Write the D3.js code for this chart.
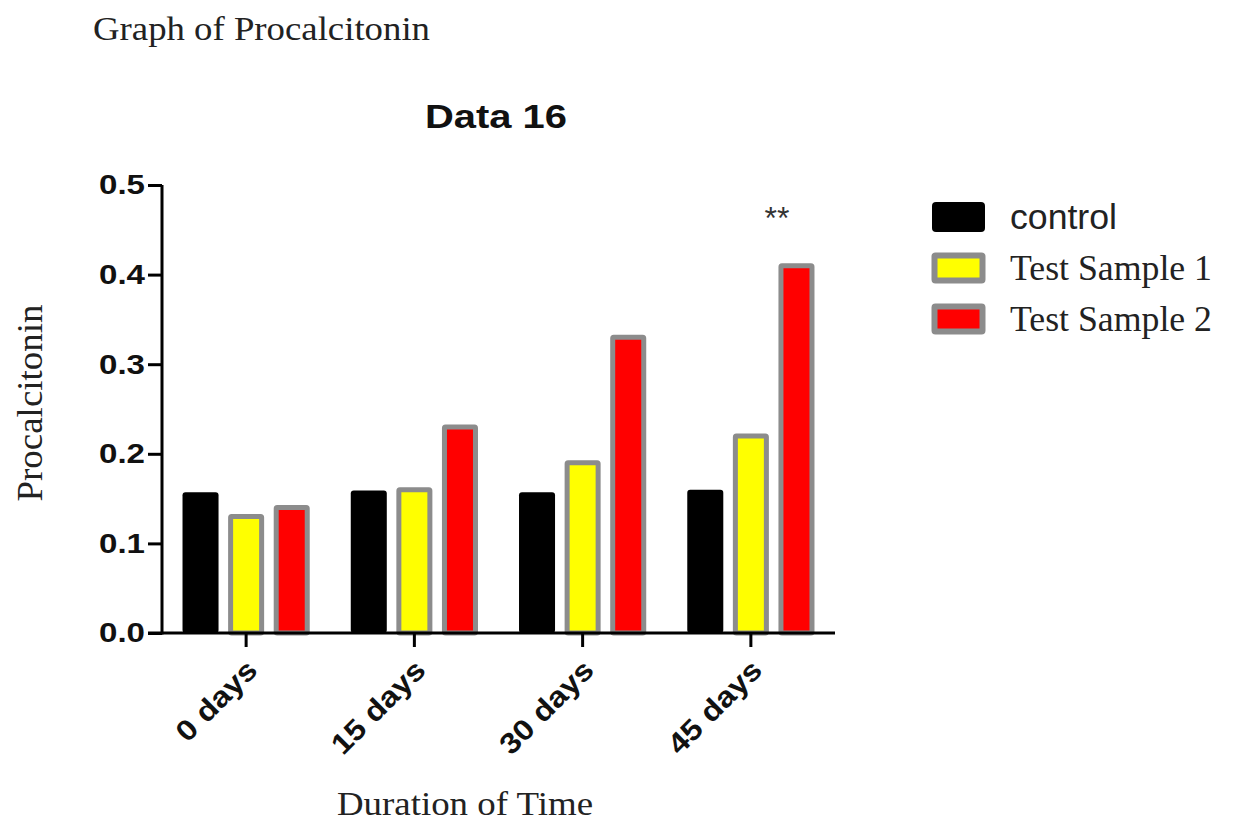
<!DOCTYPE html>
<html>
<head>
<meta charset="utf-8">
<script src="https://cdn.jsdelivr.net/npm/d3@7"></script>
<style>
  html, body { margin: 0; padding: 0; background: #fff; }
  svg { display: block; }
</style>
</head>
<body>
<svg id="chart" width="1233" height="825"></svg>
<script>
// ---- data ----
const categories = ["0 days", "15 days", "30 days", "45 days"];
const seriesNames = ["control", "Test Sample 1", "Test Sample 2"];
const controlValues = [0.157, 0.159, 0.157, 0.160];
const sample1Values = [0.130, 0.160, 0.190, 0.220];
const sample2Values = [0.140, 0.230, 0.330, 0.410];
const yTicks = [0.0, 0.1, 0.2, 0.3, 0.4, 0.5];
const annotations = [{ category: "45 days", text: "**" }];

const seriesValues = [controlValues, sample1Values, sample2Values];
const fills = ["#000000", "#ffff00", "#ff0000"];
const strokes = [null, "#8c8c8c", "#8c8c8c"];

const svg = d3.select("#chart");

// ---- scales ----
const x = d3.scaleBand().domain(categories).range([162, 835]).padding(0);
const xSub = d3.scaleBand().domain(seriesNames).range([0, x.bandwidth()])
  .paddingInner(0.21).paddingOuter(0.45);
const y = d3.scaleLinear().domain([0, 0.5]).range([633, 185]);

// ---- bars ----
const rows = [];
categories.forEach((c, i) => {
  seriesNames.forEach((s, j) => rows.push({ c, s, j, v: seriesValues[j][i] }));
});
const sw = 5;
svg.append("g").selectAll("rect").data(rows).join("rect")
  .attr("x", d => x(d.c) + xSub(d.s) + (strokes[d.j] ? sw / 2 : 0))
  .attr("y", d => y(d.v))
  .attr("width", d => xSub.bandwidth() - (strokes[d.j] ? sw : 0))
  .attr("height", d => y(0) - y(d.v))
  .attr("rx", d => strokes[d.j] ? 1 : 3)
  .attr("fill", d => fills[d.j])
  .attr("stroke", d => strokes[d.j] || "none")
  .attr("stroke-width", d => strokes[d.j] ? sw : 0);

// ---- axes ----
const yAxis = svg.append("g").attr("transform", "translate(162,0)")
  .call(d3.axisLeft(y).tickValues(yTicks).tickFormat(d3.format(".1f")).tickSize(14).tickPadding(3));
yAxis.select(".domain").attr("d", `M0,${y(0.5)}V${y(0) + 1.5}`).attr("stroke", "#000").attr("stroke-width", 3);
yAxis.selectAll(".tick line").attr("stroke", "#000").attr("stroke-width", 3);
yAxis.selectAll(".tick text")
  .attr("fill", "#111")
  .style("font-family", "Liberation Sans, Arial, sans-serif")
  .style("font-weight", "bold")
  .style("font-size", "28px")
  .attr("textLength", 46).attr("lengthAdjust", "spacingAndGlyphs");

const xAxis = svg.append("g").attr("transform", `translate(0,${y(0)})`)
  .call(d3.axisBottom(x).tickSize(14).tickPadding(0));
xAxis.select(".domain").attr("d", `M148,0H835`).attr("stroke", "#000").attr("stroke-width", 3);
xAxis.selectAll(".tick line").attr("stroke", "#000").attr("stroke-width", 3);
xAxis.selectAll(".tick text")
  .attr("fill", "#111")
  .style("font-family", "Liberation Sans, Arial, sans-serif")
  .style("font-weight", "bold")
  .style("font-size", "29px")
  .attr("text-anchor", "end")
  .attr("dy", null).attr("y", null)
  .attr("transform", "translate(13,39) rotate(-45)")
  .attr("textLength", function() { return this.getComputedTextLength() * 1.12; })
  .attr("lengthAdjust", "spacingAndGlyphs");

// ---- annotation ----
svg.append("g").selectAll("text").data(annotations).join("text")
  .attr("x", d => x(d.category) + x.bandwidth() * 0.655)
  .attr("y", 229)
  .attr("text-anchor", "middle")
  .attr("fill", "#333")
  .style("font-family", "Liberation Sans, Arial, sans-serif")
  .style("font-size", "32px")
  .text(d => d.text);

// ---- titles ----
svg.append("text").attr("x", 93).attr("y", 40)
  .attr("fill", "#222")
  .style("font-family", "Liberation Serif, Times New Roman, serif")
  .style("font-size", "34px")
  .attr("textLength", 337).attr("lengthAdjust", "spacingAndGlyphs")
  .text("Graph of Procalcitonin");

svg.append("text").attr("x", 496).attr("y", 128)
  .attr("text-anchor", "middle")
  .attr("fill", "#111")
  .style("font-family", "Liberation Sans, Arial, sans-serif")
  .style("font-weight", "bold")
  .style("font-size", "33px")
  .attr("textLength", 142).attr("lengthAdjust", "spacingAndGlyphs")
  .text("Data 16");

svg.append("text")
  .attr("transform", "translate(42,403) rotate(-90)")
  .attr("text-anchor", "middle")
  .attr("fill", "#222")
  .style("font-family", "Liberation Serif, Times New Roman, serif")
  .style("font-size", "36px")
  .attr("textLength", 197).attr("lengthAdjust", "spacingAndGlyphs")
  .text("Procalcitonin");

svg.append("text").attr("x", 465).attr("y", 815)
  .attr("text-anchor", "middle")
  .attr("fill", "#222")
  .style("font-family", "Liberation Serif, Times New Roman, serif")
  .style("font-size", "33px")
  .attr("textLength", 256).attr("lengthAdjust", "spacingAndGlyphs")
  .text("Duration of Time");

// ---- legend ----
const legendY = d3.scalePoint().domain(seriesNames).range([217, 319]);
const lg = svg.append("g").selectAll("g").data(seriesNames).join("g");
lg.append("rect")
  .attr("x", (d, i) => 932 + (strokes[i] ? sw / 2 : 0))
  .attr("y", (d, i) => legendY(d) - 15 + (strokes[i] ? sw / 2 : 0))
  .attr("width", (d, i) => 53 - (strokes[i] ? sw : 0))
  .attr("height", (d, i) => 30 - (strokes[i] ? sw : 0))
  .attr("rx", (d, i) => strokes[i] ? 1 : 4)
  .attr("fill", (d, i) => fills[i])
  .attr("stroke", (d, i) => strokes[i] || "none")
  .attr("stroke-width", (d, i) => strokes[i] ? sw + 1 : 0);
lg.append("text")
  .attr("x", 1010)
  .attr("y", d => legendY(d) + 12)
  .attr("fill", "#222")
  .style("font-family", (d, i) => i === 0 ? "Liberation Sans, Arial, sans-serif" : "Liberation Serif, Times New Roman, serif")
  .style("font-size", (d, i) => i === 0 ? "35px" : "36px")
  .attr("textLength", (d, i) => i === 0 ? 107 : 202)
  .attr("lengthAdjust", "spacingAndGlyphs")
  .text(d => d);
</script>
</body>
</html>
